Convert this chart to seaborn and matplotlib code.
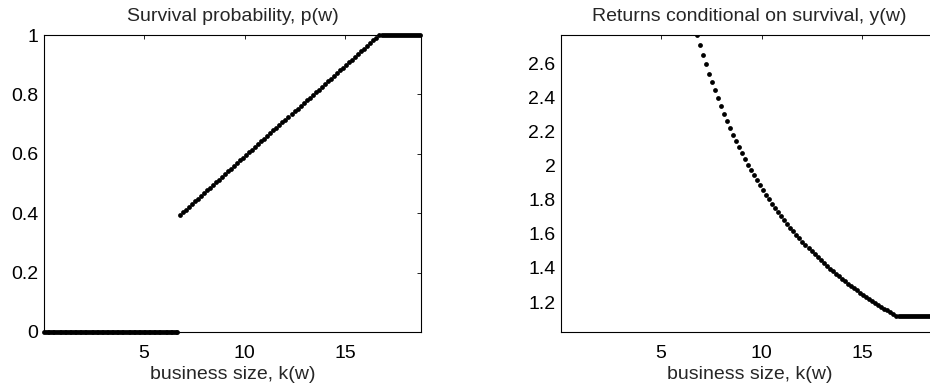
import numpy as np
import pandas as pd
import matplotlib
matplotlib.use("Agg")
import matplotlib.pyplot as plt
import seaborn as sns
from matplotlib.ticker import FuncFormatter, FixedLocator

sns.set_style("white")
plt.rcParams['font.family'] = ['Liberation Sans', 'DejaVu Sans']

# ---- data ----
# model grid of business sizes (sampling grid of the plotted dots)
k_low = np.linspace(0.05, 6.65, 80)      # firms that do not survive
k_mid = np.linspace(6.77, 16.67, 67)     # interior region
k_high = np.linspace(16.80, 18.72, 20)   # capped region

p_low = [0.0] * 80
p_mid = [0.394, 0.403, 0.412, 0.422, 0.431, 0.440, 0.449, 0.458, 0.467, 0.477,
         0.486, 0.495, 0.504, 0.513, 0.523, 0.532, 0.541, 0.550, 0.559, 0.568,
         0.578, 0.587, 0.596, 0.605, 0.614, 0.624, 0.633, 0.642, 0.651, 0.660,
         0.669, 0.679, 0.688, 0.697, 0.706, 0.715, 0.725, 0.734, 0.743, 0.752,
         0.761, 0.770, 0.780, 0.789, 0.798, 0.807, 0.816, 0.826, 0.835, 0.844,
         0.853, 0.862, 0.871, 0.881, 0.890, 0.899, 0.908, 0.917, 0.927, 0.936,
         0.945, 0.954, 0.963, 0.972, 0.982, 0.991, 1.000]
p_high = [1.0] * 20

y_mid = [2.765, 2.705, 2.648, 2.593, 2.539, 2.488, 2.440, 2.393, 2.347, 2.304,
         2.262, 2.221, 2.182, 2.145, 2.108, 2.073, 2.039, 2.006, 1.974, 1.943,
         1.914, 1.885, 1.856, 1.829, 1.802, 1.777, 1.752, 1.727, 1.704, 1.681,
         1.658, 1.636, 1.615, 1.594, 1.574, 1.554, 1.535, 1.516, 1.498, 1.480,
         1.463, 1.446, 1.429, 1.413, 1.397, 1.382, 1.366, 1.352, 1.337, 1.323,
         1.309, 1.295, 1.282, 1.269, 1.256, 1.243, 1.231, 1.219, 1.207, 1.195,
         1.184, 1.173, 1.162, 1.151, 1.141, 1.130, 1.120]
y_high = [1.12] * 20

x_ticks = [5, 10, 15]
p_ticks = [0, 0.2, 0.4, 0.6, 0.8, 1]
y_ticks = [1.2, 1.4, 1.6, 1.8, 2.0, 2.2, 2.4, 2.6]

title_left = "Survival probability, p(w)"
title_right = "Returns conditional on survival, y(w)"
x_label = "business size, k(w)"

df_p = pd.DataFrame({"k": np.concatenate([k_low, k_mid, k_high]),
                     "v": p_low + p_mid + p_high})
df_y = pd.DataFrame({"k": np.concatenate([k_mid, k_high]),
                     "v": y_mid + y_high})

fig = plt.figure(figsize=(9.3, 3.9), dpi=100)
W, H = 930, 390
ax1 = fig.add_axes([44 / W, (H - 332) / H, 377 / W, 297 / H])
ax2 = fig.add_axes([561 / W, (H - 332) / H, 377 / W, 297 / H])

fmt = FuncFormatter(lambda v, pos: f"{v:g}")

for ax, df, ticks, title, ylim in [
        (ax1, df_p, p_ticks, title_left, (0, 1)),
        (ax2, df_y, y_ticks, title_right, (1.025, 2.765))]:
    sns.scatterplot(data=df, x="k", y="v", ax=ax, color="black", s=12,
                    linewidth=0, clip_on=False if ax is ax1 else True,
                    zorder=3)
    ax.set_xlim(0.03, 18.75)
    ax.set_ylim(*ylim)
    ax.xaxis.set_major_locator(FixedLocator(x_ticks))
    ax.yaxis.set_major_locator(FixedLocator(ticks))
    ax.yaxis.set_major_formatter(fmt)
    ax.xaxis.set_major_formatter(fmt)
    ax.tick_params(direction="in", length=3, width=0.6, top=True, right=True,
                   labelsize=14, colors="black", pad=4)
    ax.tick_params(axis="x", pad=9)
    for s in ax.spines.values():
        s.set_visible(True)
        s.set_color("black")
        s.set_linewidth(0.8)
    ax.set_title(title, fontsize=14, pad=10)
    ax.set_xlabel(x_label, fontsize=14, labelpad=3)
    ax.set_ylabel("")
    ax.set_facecolor("white")

fig.savefig("out.png", dpi=100)
